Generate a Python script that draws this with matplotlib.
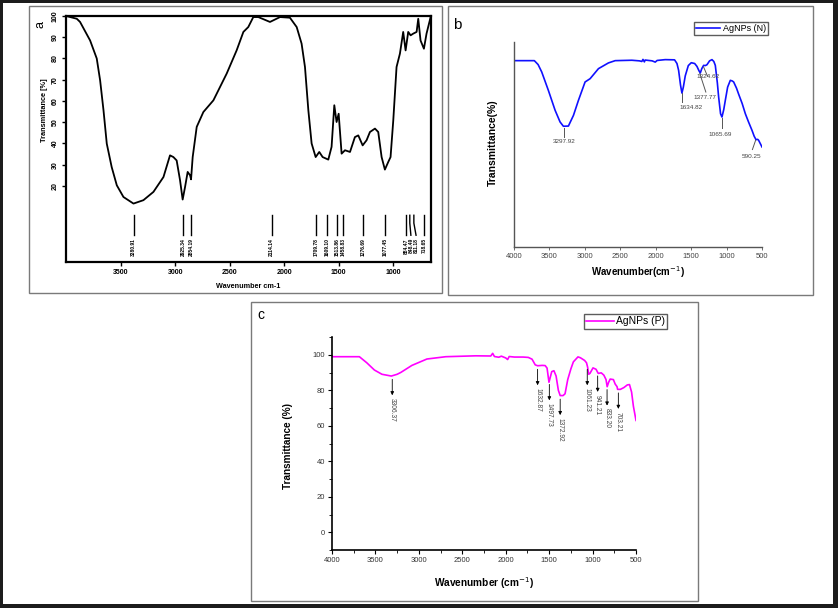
import numpy as np
import matplotlib
matplotlib.use("Agg")
import matplotlib.pyplot as plt
from matplotlib.patches import Rectangle

plt.rcParams["font.family"] = ["Liberation Sans", "DejaVu Sans"]

# -------------------------
# DATA
# -------------------------

# panel a : FTIR spectrum (black)
a_wn = [4001, 3903, 3873, 3781, 3720, 3689, 3658, 3628, 3583, 3536, 3475, 3383,
        3292, 3200, 3108, 3048, 3017, 2987, 2956, 2932, 2910, 2886, 2864, 2855,
        2840, 2803, 2742, 2650, 2528, 2437, 2375, 2330, 2284, 2238, 2131, 2039,
        1948, 1886, 1841, 1810, 1779, 1749, 1712, 1679, 1648, 1596, 1566, 1541,
        1520, 1501, 1474, 1443, 1397, 1352, 1321, 1281, 1245, 1214, 1168, 1138,
        1107, 1077, 1046, 1025, 1000, 970, 939, 909, 887, 863, 841, 817, 786,
        771, 750, 719, 695, 655]
a_T = [100, 98.7, 97.2, 88.5, 80, 69.7, 55.6, 39.9, 28.9, 20.3, 14.8, 11.7,
       13.3, 17.2, 24.2, 34.4, 33.6, 32, 22.7, 13.6, 19.5, 26.6, 25, 23.1,
       33.6, 47.8, 54.8, 60.3, 72.9, 83.8, 92.5, 94.8, 99.5, 99.5, 97.2, 99.5,
       99.2, 94.8, 87, 76, 55.6, 40, 33.6, 36, 33.6, 32.4, 38.4, 58,
       50.1, 54, 35.2, 36.8, 36, 43, 43.8, 39.1, 41.5, 45.4, 47, 45.4,
       33.6, 27.7, 31.3, 33.6, 50.9, 76, 82.3, 92.5, 83.8, 92.5, 90.9, 91.7, 92.5,
       98.7, 88.5, 84.6, 91.7, 100]
a_peaks = [3380.91, 2925.34, 2854.19, 2114.14, 1709.78, 1609.10, 1513.86,
           1458.83, 1276.69, 1077.45, 884.47, 848.49, 811.18, 718.65]
a_peak_labels = ["3380.91", "2925.34", "2854.19", "2114.14", "1709.78", "1609.10",
                 "1513.86", "1458.83", "1276.69", "1077.45", "884.47", "848.49",
                 "811.18", "718.65"]

# panel b : AgNPs (N)
b_wn = [4000, 3713, 3660, 3609, 3515, 3420, 3350, 3303, 3232, 3161, 3091, 2997,
        2926, 2808, 2667, 2572, 2337, 2230, 2196, 2180, 2160, 2149, 2050, 2007,
        1980, 1866, 1734, 1700, 1677, 1650, 1630, 1610, 1583, 1540, 1498, 1450,
        1418, 1390, 1371, 1350, 1324, 1300, 1277, 1240, 1206, 1180, 1159, 1130,
        1112, 1085, 1065, 1040, 1018, 985, 947, 920, 900, 860, 829, 780, 735,
        690, 641, 610, 585, 560, 547, 525, 500]
b_T = [90.9, 90.9, 89, 85.4, 76.4, 66.7, 61, 58.9, 59, 64.2, 71.5, 80.5,
       82.1, 87, 89.8, 90.9, 91.1, 90.8, 90.5, 91.5, 90.3, 91.2, 90.8, 90.2,
       91, 91.4, 91.3, 89.5, 86.2, 79, 75.1, 78, 83.5, 88.5, 89.9, 89.5,
       88.1, 86, 84.9, 87, 88.6, 88.5, 88.9, 90.8, 91.4, 90.5, 88.6, 80,
       73.2, 65, 63.4, 67, 71.5, 78, 81.3, 81, 80.5, 77.5, 74.5, 70, 65,
       61, 56.9, 54, 52.4, 52.5, 52, 50.5, 48.8]
b_peaks = [3297.92, 1634.82, 1377.77, 1324.62, 1065.69, 590.25]
b_peak_labels = ["3297.92", "1634.82", "1377.77", "1324.62", "1065.69", "590.25"]

# panel c : AgNPs (P)
c_wn = [4000, 3900, 3685, 3600, 3512, 3425, 3317, 3250, 3209, 3080, 2907, 2690,
        2345, 2172, 2150, 2130, 2080, 2050, 2000, 1978, 1960, 1900, 1800, 1740,
        1697, 1660, 1632, 1580, 1546, 1524, 1502, 1470, 1445, 1420, 1394, 1373,
        1340, 1317, 1286, 1250, 1221, 1168, 1140, 1092, 1070, 1057, 1045, 1030,
        995, 960, 935, 900, 870, 845, 832, 815, 797, 760, 740, 718, 712, 680,
        640, 600, 575, 551, 530, 500]
c_T = [98.9, 98.9, 98.9, 95.5, 91.4, 89, 88, 89, 90, 94, 97.6, 98.9,
       99.4, 99.3, 100.8, 99, 98.6, 99.2, 98.2, 97.3, 99, 98.7, 98.7, 98.5,
       97.5, 94.3, 93.8, 94, 93.9, 92.5, 84.5, 90.5, 91, 88, 80, 77,
       77, 78, 86, 92, 96, 98.8, 98.3, 96.8, 95.5, 93, 89, 89.5,
       92.6, 91.8, 89.5, 89.8, 88.5, 86, 82, 84.5, 86.3, 86, 83.5, 82, 80.5, 80.5,
       81.5, 83, 83.2, 79, 71, 63]
c_peaks = [3306.37, 1632.87, 1497.73, 1372.92, 1061.23, 941.21, 833.20, 703.21]
c_peak_labels = ["3306.37", "1632.87", "1497.73", "1372.92", "1061.23", "941.21",
                 "833.20", "703.21"]

# -------------------------
# FIGURE + FRAMES
# -------------------------

W, H = 838, 608


def box(x0, y0, x1, y1):
    return [x0 / W, 1 - y1 / H, (x1 - x0) / W, (y1 - y0) / H]


def fpt(x, y):
    return x / W, 1 - y / H


fig = plt.figure(figsize=(8.38, 6.08), dpi=100)
fig.patch.set_facecolor("white")

for x0, y0, x1, y1 in [(29, 6, 442, 293), (448, 6, 813, 295), (251, 302, 698, 601)]:
    b = box(x0, y0, x1, y1)
    fig.add_artist(Rectangle((b[0], b[1]), b[2], b[3], transform=fig.transFigure,
                             fill=False, ec="#7a7a7a", lw=1.0))

# dark outer border
for x0, y0, x1, y1 in [(0, 0, 838, 3), (0, 0, 3, 608), (833, 0, 838, 608), (0, 604, 838, 608)]:
    b = box(x0, y0, x1, y1)
    fig.add_artist(Rectangle((b[0], b[1]), b[2], b[3], transform=fig.transFigure,
                             fc="#1c1c1c", ec="none"))

# -------------------------
# PANEL A
# -------------------------

axa = fig.add_axes(box(66, 16, 431, 262))
axa.plot(a_wn, a_T, color="black", lw=1.3)
axa.set_xlim(4002, 654)
axa.set_ylim(-15.8, 100)
for s in axa.spines.values():
    s.set_linewidth(1.6)
axa.set_xticks([3500, 3000, 2500, 2000, 1500, 1000])
axa.set_yticks(np.arange(20, 101, 10))
axa.tick_params(direction="out", length=3, width=1, labelsize=5, pad=2)
for t in axa.get_yticklabels():
    t.set_rotation(90)
    t.set_va("center")
for t in axa.get_xticklabels() + axa.get_yticklabels():
    t.set_fontweight("bold")

bend = {"848.49": -10, "811.18": -20}
for wn, lab in zip(a_peaks, a_peak_labels):
    xb = wn + bend.get(lab, 0)
    axa.plot([wn, wn, xb], [6.2, 2.5, -3.2], color="black", lw=1.0)
    axa.text(xb, -4.6, lab, rotation=90, ha="center", va="top",
             fontsize=3.6, fontweight="bold")

fig.text(*fpt(40, 25), "a", rotation=90, ha="center", va="center", fontsize=9)
fig.text(*fpt(44, 110), "Transmittance [%]", rotation=90, ha="center",
         va="center", fontsize=5.3, fontweight="bold")
fig.text(*fpt(248, 286), "Wavenumber cm-1", ha="center", va="center",
         fontsize=5.2, fontweight="bold")

# -------------------------
# PANEL B
# -------------------------

axb = fig.add_axes(box(514, 42, 762, 247))
axb.plot(b_wn, b_T, color="#1010ff", lw=1.2, label="AgNPs (N)")
axb.set_xlim(4000, 500)
axb.set_ylim(0, 100)
axb.spines["top"].set_visible(False)
axb.spines["right"].set_visible(False)
for s in ["left", "bottom"]:
    axb.spines[s].set_color("#555555")
    axb.spines[s].set_linewidth(1.0)
axb.set_yticks([])
axb.set_xticks(np.arange(4000, 499, -500))
axb.tick_params(axis="x", direction="out", length=2, width=0.6,
                labelsize=5.5, labelcolor="#444444", color="#555555", pad=2)

b_x = np.array(b_wn[::-1])
b_y = np.array(b_T[::-1])
# (line top offset, text dx, text dy) per label
b_lay = {"3297.92": (0, 0, -6.5), "1634.82": (0, -140, -7.5),
         "1377.77": (-85, -75, -11.5), "1324.62": (-55, -70, -4.5),
         "1065.69": (0, 20, -8), "590.25": (45, 60, -8)}
for wn, lab in zip(b_peaks, b_peak_labels):
    y0 = np.interp(wn, b_x, b_y) - 0.7
    dxl, dxt, dyt = b_lay[lab]
    y1 = y0 - (9 if lab == "1377.77" else 4.5)
    axb.plot([wn, wn + dxl], [y0, y1], color="#555555", lw=0.7)
    axb.text(wn + dxt, y0 + dyt, lab, ha="center", va="center",
             fontsize=4.6, color="#444444")

axb.legend(loc="center", bbox_to_anchor=fpt(731, 28.5), bbox_transform=fig.transFigure,
           fontsize=6.5, frameon=True, fancybox=False, edgecolor="#333333",
           borderpad=0.25, handlelength=2.6, handletextpad=0.3, borderaxespad=0)

fig.text(*fpt(457, 25), "b", ha="center", va="center", fontsize=11)
fig.text(*fpt(638, 272), "Wavenumber(cm$^{-1}$)", ha="center", va="center",
         fontsize=7, fontweight="bold")
fig.text(*fpt(493, 143), "Transmittance(%)", rotation=90, ha="center",
         va="center", fontsize=7.5, fontweight="bold")

# -------------------------
# PANEL C
# -------------------------

axc = fig.add_axes(box(332, 337, 636, 550))
axc.plot(c_wn, c_T, color="#ff00ff", lw=1.2, label="AgNPs (P)")
axc.set_xlim(4000, 500)
axc.set_ylim(-10, 110)
axc.spines["top"].set_visible(False)
axc.spines["right"].set_visible(False)
for s in ["left", "bottom"]:
    axc.spines[s].set_linewidth(1.2)
axc.set_xticks(np.arange(4000, 499, -500))
axc.set_xticks(np.arange(3750, 500, -500), minor=True)
axc.set_yticks(np.arange(0, 101, 20))
axc.set_yticks(np.arange(-10, 111, 20), minor=True)
axc.tick_params(which="major", direction="out", length=3, width=0.8,
                labelsize=5.5, labelcolor="#333333", pad=2)
axc.tick_params(which="minor", direction="out", length=2, width=0.6)

c_x = np.array(c_wn[::-1])
c_y = np.array(c_T[::-1])
for wn, lab in zip(c_peaks, c_peak_labels):
    y0 = np.interp(wn, c_x, c_y) - 2
    y1 = y0 - 9
    axc.annotate("", xy=(wn, y1), xytext=(wn, y0),
                 arrowprops=dict(arrowstyle="-|>", color="black", lw=0.6,
                                 mutation_scale=5, shrinkA=0, shrinkB=0))
    axc.text(wn, y1 - 1.5, lab, rotation=270, ha="center", va="top",
             fontsize=4.8, color="#444444")

axc.legend(loc="center", bbox_to_anchor=fpt(625.5, 321.5), bbox_transform=fig.transFigure,
           fontsize=7.5, frameon=True, fancybox=False, edgecolor="#333333",
           borderpad=0.2, handlelength=2.6, handletextpad=0.2, borderaxespad=0)

fig.text(*fpt(261, 315), "c", ha="center", va="center", fontsize=10)
fig.text(*fpt(484, 583), "Wavenumber (cm$^{-1}$)", ha="center", va="center",
         fontsize=7.3, fontweight="bold")
fig.text(*fpt(288, 446), "Transmittance (%)", rotation=90, ha="center",
         va="center", fontsize=7.2, fontweight="bold")

fig.savefig("out.png", dpi=100)
